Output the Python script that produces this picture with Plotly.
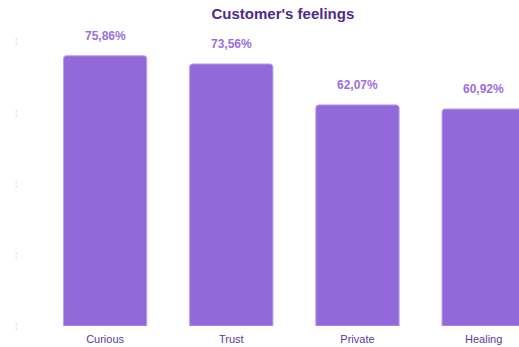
import plotly.graph_objects as go

categories = ["Curious", "Trust", "Private", "Healing"]
values = [75.86, 73.56, 62.07, 60.92]
ytick_vals = [0, 20, 40, 60, 80]

BAR = "#9368d8"
LABEL = "#9a70e0"
DARK = "#4e2a8e"

fig = go.Figure()
fig.add_trace(go.Bar(
    x=categories, y=values,
    marker=dict(color=BAR, line=dict(color="#b8a0ea", width=1), cornerradius=3),
    width=0.66, hoverinfo="skip",
))

for c, v in zip(categories, values):
    fig.add_annotation(
        x=c, y=v, text=f"{v:.2f}".replace(".", ",") + "%",
        showarrow=False, yanchor="bottom", yshift=11,
        font=dict(family="Liberation Sans, Arial, sans-serif", size=12, color=LABEL, weight="bold"),
    )

fig.update_layout(
    width=519, height=347,
    margin=dict(l=42, r=0, t=41, b=21),
    paper_bgcolor="white", plot_bgcolor="white",
    showlegend=False,
    title=dict(text="<b>Customer's feelings</b>", x=0.545, xanchor="center", y=0.96, yanchor="middle",
               font=dict(family="Liberation Sans, Arial, sans-serif", size=15, color=DARK)),
    xaxis=dict(range=[-0.5, 3.28], showgrid=False, zeroline=False, showline=False,
               ticks="", ticklabelstandoff=5,
               tickfont=dict(family="Liberation Sans, Arial, sans-serif", size=11, color="#5b3a9a")),
    yaxis=dict(range=[0, 80], tickvals=ytick_vals, ticktext=["¦"] * len(ytick_vals),
               showgrid=False, zeroline=False, showline=False, ticks="",
               ticklabelstandoff=24,
               tickfont=dict(family="Liberation Sans, Arial, sans-serif", size=7, color="#c8c8c8")),
)

fig.write_html("out.html")
